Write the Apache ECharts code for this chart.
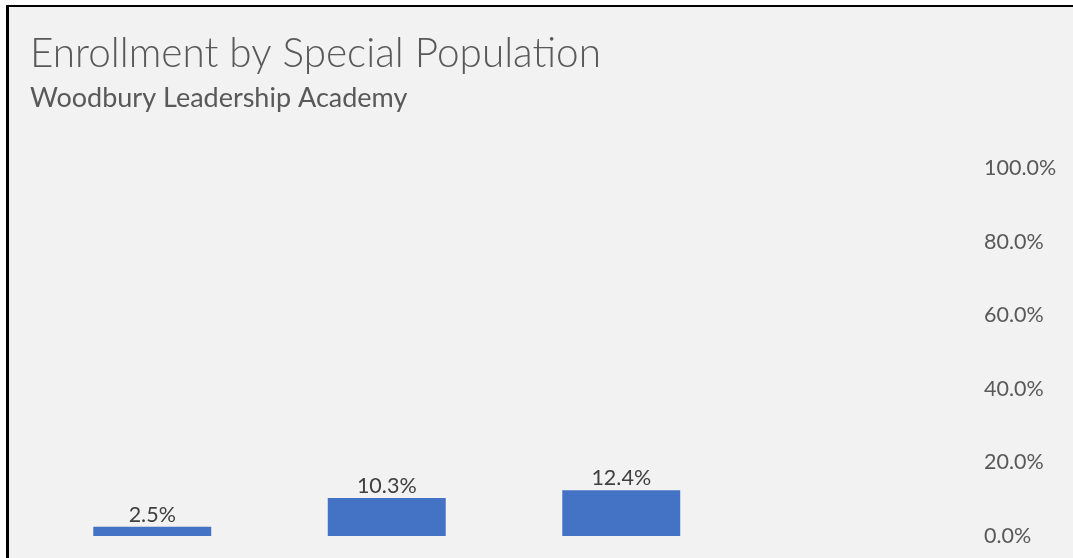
<!DOCTYPE html>
<html>
<head>
<meta charset="utf-8">
<script src="https://cdn.jsdelivr.net/npm/echarts@6/dist/echarts.min.js"></script>
<style>
html,body{margin:0;padding:0;background:#fff;}
#c{width:1073px;height:558px;}
</style>
</head>
<body>
<div id="c"></div>
<script>
const titleText = "Enrollment by Special Population";
const subtitleText = "Woodbury Leadership Academy";
const categories = ["Category 1", "Category 2", "Category 3", "Category 4"];
const values = [0.025, 0.103, 0.124, null];
const yTicks = { min: 0, max: 1, interval: 0.2 };

const chart = echarts.init(document.getElementById('c'), null, {renderer: 'canvas'});
chart.setOption({
  backgroundColor: '#f2f2f2',
  animation: false,
  title: [
    { text: titleText, left: 25, top: 28,
      textStyle: { fontFamily: 'Lato', fontWeight: 300, fontSize: 40.5, color: '#595959' } },
    { text: subtitleText, left: 25, top: 80,
      textStyle: { fontFamily: 'Lato', fontWeight: 'normal', fontSize: 27, color: '#595959' } }
  ],
  grid: { left: 35, right: 100, top: 168, bottom: 22, containLabel: false },
  xAxis: {
    type: 'category', data: categories,
    axisLine: { show: false }, axisTick: { show: false }, axisLabel: { show: false }
  },
  yAxis: {
    type: 'value', position: 'right', min: yTicks.min, max: yTicks.max, interval: yTicks.interval,
    splitLine: { show: false }, axisLine: { show: false }, axisTick: { show: false },
    axisLabel: { align: 'left', margin: 11, fontFamily: 'Lato', fontSize: 21.5, color: '#595959',
      formatter: v => (v * 100).toFixed(1) + '%' }
  },
  series: [{
    type: 'bar', data: values, barWidth: '50.3%', itemStyle: { color: '#4472c4' },
    label: { show: true, position: 'top', distance: 1, fontFamily: 'Lato', fontSize: 21.5, color: '#404040',
      formatter: p => (p.value * 100).toFixed(1) + '%' }
  }],
  graphic: [
    { type: 'rect', shape: { x: 0, y: 0, width: 1073, height: 5 }, style: { fill: '#fff' }, silent: true },
    { type: 'rect', shape: { x: 0, y: 0, width: 6, height: 558 }, style: { fill: '#fff' }, silent: true },
    { type: 'rect', shape: { x: 6, y: 5, width: 1067, height: 2 }, style: { fill: '#000' }, silent: true },
    { type: 'rect', shape: { x: 6, y: 5, width: 3, height: 553 }, style: { fill: '#000' }, silent: true }
  ]
});
</script>
</body>
</html>
